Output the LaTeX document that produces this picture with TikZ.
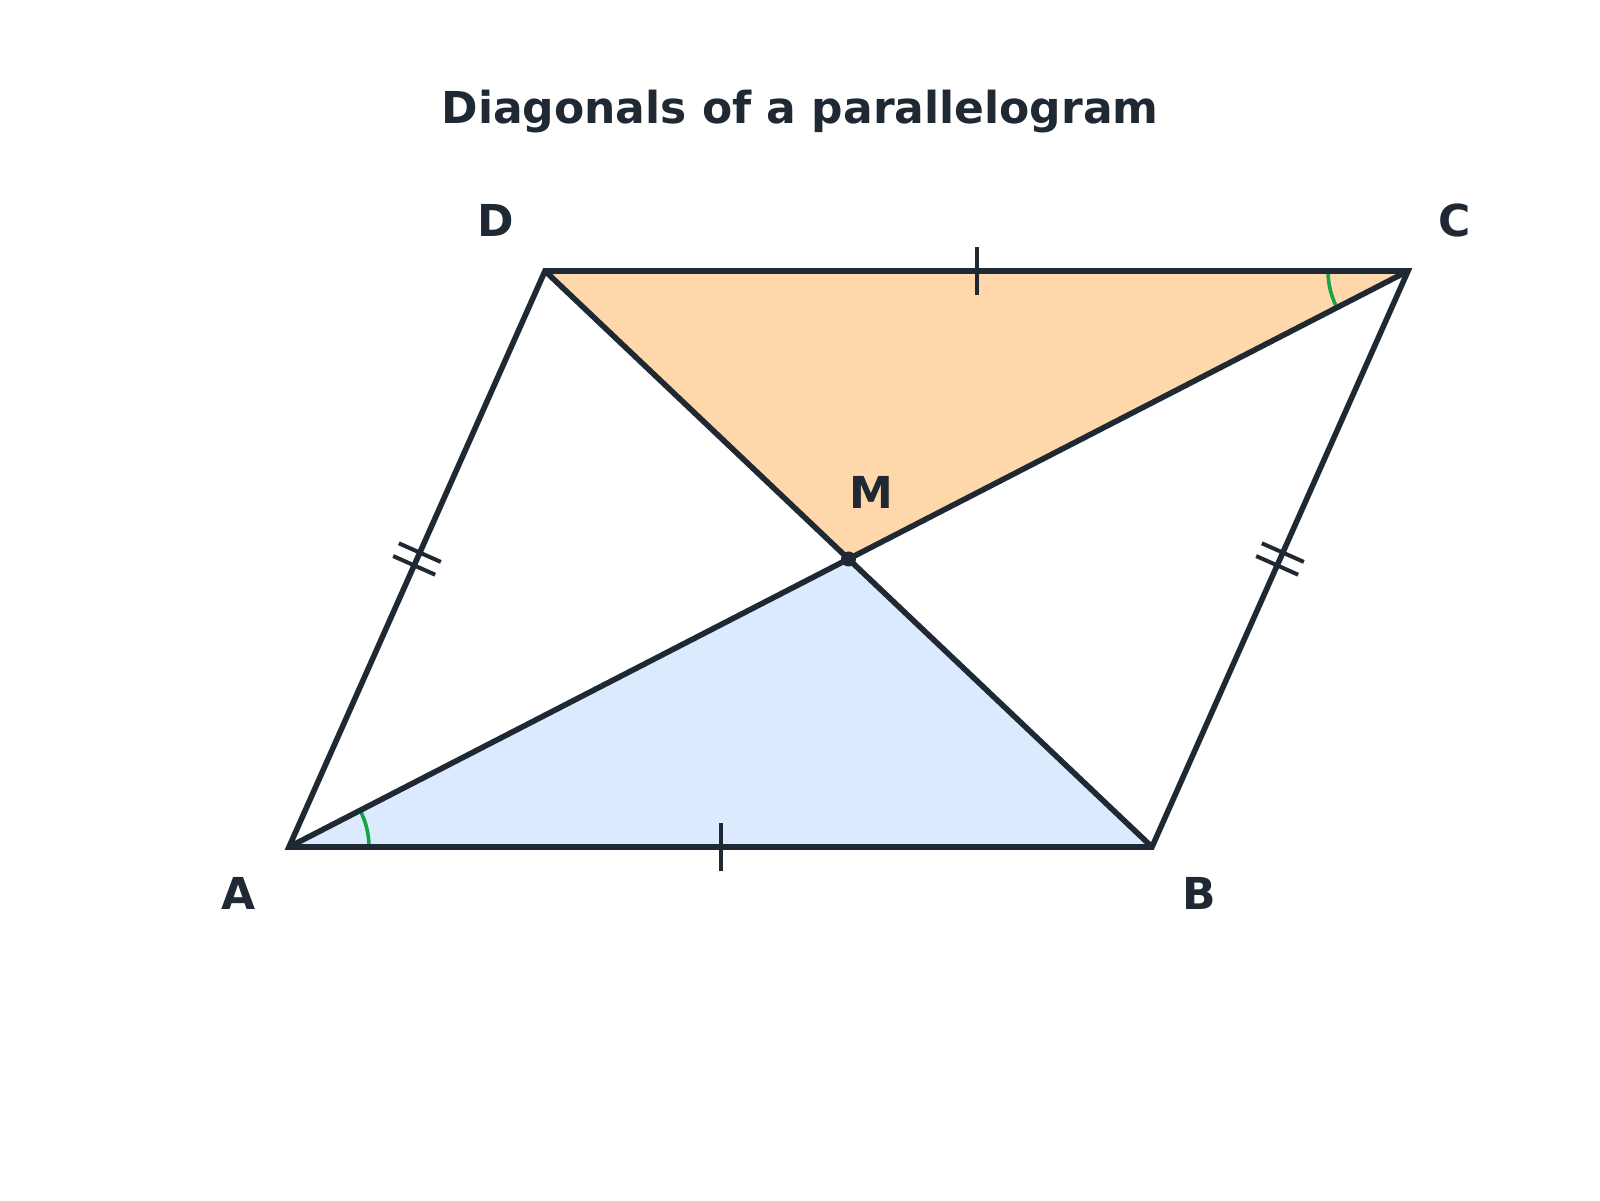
\documentclass[tikz,border=0pt]{standalone}
\usepackage{fontspec}
\setmainfont{DejaVu Sans}
\usetikzlibrary{calc}
\definecolor{ink}{HTML}{1F2933}
\definecolor{peach}{HTML}{FED7AA}
\definecolor{paleblue}{HTML}{DBEAFE}
\definecolor{mark}{HTML}{16A34A}
\begin{document}
\begin{tikzpicture}[x=1pt,y=1pt,
  edge/.style={draw=ink,line width=5.6pt,line join=miter},
  tickmark/.style={draw=ink,line width=4pt},
  anglemark/.style={draw=mark,line width=3.6pt},
  lab/.style={font=\bfseries\fontsize{44}{48}\selectfont,text=ink,inner sep=0pt}]
\useasboundingbox (0,0) rectangle (1600,1200);
\coordinate (A) at (289,353);
\coordinate (B) at (1152,353);
\coordinate (C) at (1408,929);
\coordinate (D) at (545,929);
\coordinate (M) at (848.5,641);
% fills
\fill[paleblue] (A) -- (B) -- (M) -- cycle;
\fill[peach] (C) -- (D) -- (M) -- cycle;
% angle marks
\draw[anglemark] ($(A)+(80,0)$) arc[start angle=0,end angle=27.23,radius=80];
\draw[anglemark] ($(C)+(-80,0)$) arc[start angle=180,end angle=207.23,radius=80];
% outline and diagonals
\draw[edge] (A) -- (B) -- (C) -- (D) -- cycle;
\draw[edge] (A) -- (C);
\draw[edge] (B) -- (D);
% ticks
\coordinate (mAB) at ($(A)!0.5!(B)$);
\coordinate (mDC) at ($(D)!0.5!(C)$);
\draw[tickmark] ($(mAB)+(0,-24)$) -- ($(mAB)+(0,24)$);
\draw[tickmark] ($(mDC)+(0,-24)$) -- ($(mDC)+(0,24)$);
\foreach \p/\q in {A/D,B/C}{
  \foreach \s in {0.4889,0.5111}{
    \draw[tickmark] ($(\p)!\s!(\q)!23pt!90:(\q)$) -- ($(\p)!\s!(\q)!23pt!-90:(\q)$);
  }
}
\fill[ink] (M) circle[radius=7.5];
% labels
\node[lab] (lA) at (239,307) {A};
\node[lab] (lB) at (1199,307) {B};
\node[lab] (lC) at (1455,980) {C};
\node[lab] (lD) at (496,980) {D};
\node[lab] (lM) at (871,708) {M};
\node[lab,anchor=base] (title) at (800,1076) {Diagonals of a parallelogram};
\end{tikzpicture}
\end{document}
